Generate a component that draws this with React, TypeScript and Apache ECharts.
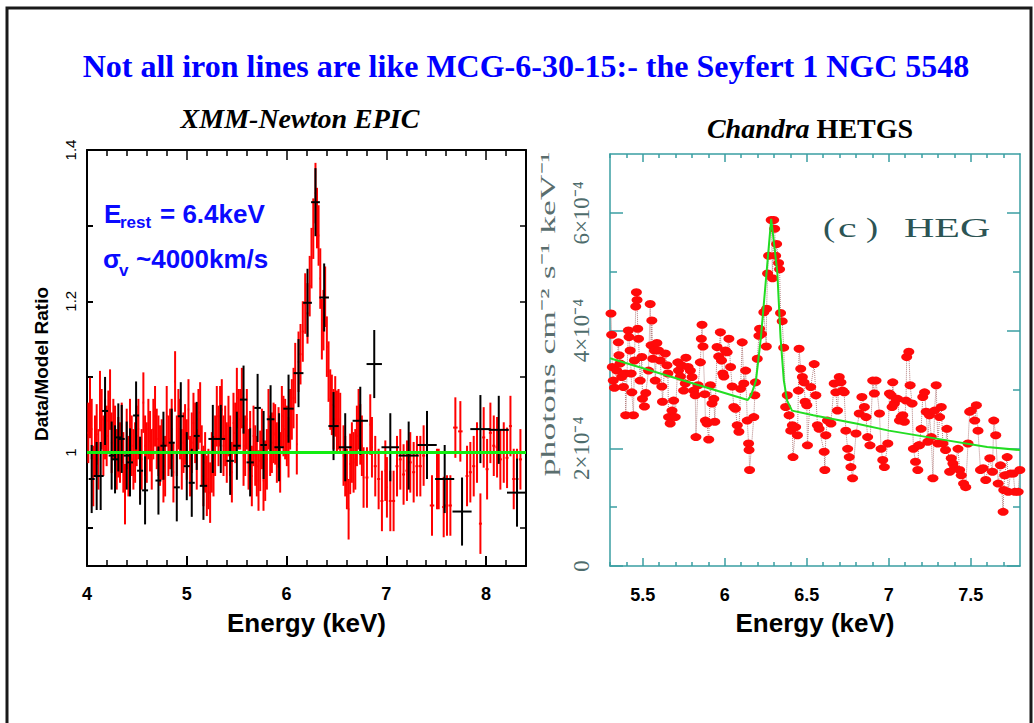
import React, { useEffect, useRef } from 'react';
import * as echarts from 'echarts';

// ---------- Left panel: XMM-Newton EPIC data/model ratio ----------
// [energy keV, ratio]
const ratioRed: number[][] = [
  [4.013,1.026],[4.030,1.059],[4.047,1.031],[4.063,0.969],[4.080,1.009],[4.097,1.024],[4.114,0.991],[4.130,1.068],
  [4.147,1.044],[4.164,1.009],[4.181,1.031],[4.197,1.022],[4.214,1.042],[4.231,1.070],[4.247,1.013],[4.264,1.031],
  [4.281,1.022],[4.298,0.991],[4.314,1.007],[4.331,1.000],[4.348,1.026],[4.364,0.987],[4.381,0.945],[4.398,1.018],
  [4.415,0.982],[4.431,1.031],[4.448,1.009],[4.465,0.991],[4.482,1.000],[4.498,1.022],[4.515,1.031],[4.532,0.978],
  [4.548,0.991],[4.565,1.066],[4.582,1.009],[4.599,1.000],[4.615,1.031],[4.632,1.015],[4.649,0.991],[4.665,1.031],
  [4.682,1.048],[4.699,1.018],[4.716,1.009],[4.732,0.996],[4.749,1.004],[4.766,0.974],[4.783,0.982],[4.799,1.048],
  [4.816,1.009],[4.833,1.018],[4.849,1.031],[4.866,0.974],[4.883,1.094],[4.900,1.009],[4.916,1.044],[4.933,1.031],
  [4.950,0.991],[4.967,1.013],[4.983,1.024],[5.000,1.004],[5.017,1.057],[5.033,0.982],[5.050,1.013],[5.067,1.039],
  [5.084,1.026],[5.100,0.991],[5.117,1.044],[5.134,1.053],[5.150,0.996],[5.167,0.969],[5.184,0.987],[5.201,0.956],
  [5.217,0.965],[5.234,0.947],[5.251,0.987],[5.268,0.982],[5.284,1.009],[5.301,1.048],[5.318,1.022],[5.334,1.048],
  [5.351,1.057],[5.368,1.009],[5.385,1.022],[5.401,1.000],[5.418,1.035],[5.435,1.009],[5.452,0.974],[5.468,1.039],
  [5.485,1.026],[5.502,1.072],[5.518,1.044],[5.535,1.044],[5.552,1.072],[5.569,0.996],[5.585,1.009],[5.602,1.044],
  [5.619,0.991],[5.635,1.015],[5.652,0.969],[5.669,1.022],[5.686,0.996],[5.702,0.982],[5.719,0.963],[5.736,0.989],
  [5.753,1.018],[5.769,0.963],[5.786,0.976],[5.803,0.991],[5.819,1.044],[5.836,1.009],[5.853,1.013],[5.870,1.026],
  [5.886,1.024],[5.903,1.000],[5.920,1.020],[5.936,0.987],[5.953,1.048],[5.969,1.035],[5.986,1.031],[6.003,1.022],
  [6.020,1.007],[6.036,1.044],[6.053,1.057],[6.070,1.072],[6.087,1.105],[6.103,1.011],[6.120,1.120],[6.140,1.130],
  [6.163,1.160],[6.187,1.197],[6.210,1.184],[6.232,1.220],[6.250,1.257],[6.268,1.296],[6.290,1.343],[6.305,1.310],
  [6.321,1.287],[6.338,1.230],[6.354,1.163],[6.370,1.175],[6.387,1.206],[6.404,1.140],[6.421,1.107],[6.438,1.070],
  [6.454,1.063],[6.471,1.044],[6.488,1.061],[6.505,1.042],[6.521,1.044],[6.538,1.039],[6.571,0.996],[6.588,0.982],
  [6.605,0.965],[6.622,0.925],[6.638,0.985],[6.655,1.000],[6.672,0.987],[6.689,0.991],[6.705,1.022],[6.722,1.044],
  [6.739,1.024],[6.755,1.009],[6.772,0.967],[6.806,0.967],[6.839,1.037],[6.856,1.007],[6.889,0.982],[6.923,0.965],
  [6.956,0.936],[6.990,0.976],[7.006,0.954],[7.040,0.936],[7.073,0.936],[7.107,0.982],[7.140,0.991],[7.173,0.971],
  [7.207,0.976],[7.240,0.987],[7.274,0.974],[7.307,0.982],[7.341,0.982],[7.374,0.996],[7.458,0.930],[7.508,0.965],
  [7.525,0.965],[7.575,0.928],[7.608,0.930],[7.642,0.930],[7.692,1.033],[7.742,1.028],[7.809,0.969],[7.842,0.974],
  [7.876,0.982],[7.909,1.000],[7.943,0.906],[7.976,1.020],[8.010,0.978],[8.043,1.026],[8.077,1.009],[8.110,1.007],
  [8.143,0.991],[8.177,1.000],[8.210,0.993],[8.244,1.035],[8.277,0.965],[8.310,0.965],[8.344,0.991]
];
const ratioBlack: number[][] = [
  [4.047,0.965],[4.097,0.969],[4.137,0.969],[4.181,1.055],[4.247,0.996],[4.281,0.991],[4.314,1.020],[4.348,1.018],
  [4.398,0.996],[4.431,0.987],[4.492,1.049],[4.532,0.976],[4.582,0.950],[4.716,0.963],[4.766,1.009],[4.849,1.013],
  [4.900,0.954],[4.940,1.048],[5.000,0.982],[5.050,0.960],[5.100,1.022],[5.167,0.956],[5.261,1.018],[5.341,1.018],
  [5.435,0.989],[5.502,1.009],[5.569,1.070],[5.635,0.987],[5.710,1.059],[5.770,1.010],[5.840,1.044],[5.925,1.007],
  [6.020,1.058],[6.120,1.105],[6.210,1.198],[6.290,1.331],[6.377,1.205],[6.471,1.035],[6.588,1.007],[6.739,1.042],
  [6.879,1.117],[7.040,1.007],[7.224,0.996],[7.408,1.010],[7.585,0.965],[7.759,0.922],[7.943,1.031],[8.127,1.030],
  [8.310,0.947]
];
const ratioModel: number[][] = [[4, 1], [8.4, 1]];
const redErr = 0.04;
const blackErr = 0.045;

const leftXMajor = [4, 5, 6, 7, 8];
const leftXMinor = [4.2,4.4,4.6,4.8,5.2,5.4,5.6,5.8,6.2,6.4,6.6,6.8,7.2,7.4,7.6,7.8,8.2];
const leftYTicks = [0.9, 1, 1.1, 1.2, 1.3];
const leftYLabels = [1, 1.2, 1.4];

// ---------- Right panel: Chandra HEG spectrum (flux in 1e-4 photons cm^-2 s^-1 keV^-1) ----------
const hegPoints: number[][] = [
  [5.306,4.29],[5.310,3.93],[5.314,3.38],[5.320,3.15],[5.327,3.03],[5.341,3.32],[5.351,3.80],[5.355,3.58],
  [5.361,3.44],[5.371,3.21],[5.382,3.04],[5.392,3.27],[5.396,2.56],[5.412,4.00],[5.416,3.89],[5.423,3.66],
  [5.429,3.27],[5.433,2.95],[5.443,2.56],[5.449,3.49],[5.457,4.41],[5.461,4.65],[5.465,4.52],[5.469,4.03],
  [5.474,3.86],[5.484,3.15],[5.494,3.55],[5.498,2.84],[5.510,2.71],[5.518,2.94],[5.535,3.32],[5.545,4.45],
  [5.551,3.75],[5.555,4.17],[5.561,3.52],[5.571,3.66],[5.576,3.15],[5.586,3.79],[5.596,3.66],[5.606,3.49],
  [5.616,3.05],[5.620,2.79],[5.637,3.61],[5.647,3.41],[5.653,3.27],[5.657,2.53],[5.667,2.42],[5.678,2.64],
  [5.688,2.81],[5.698,2.53],[5.714,3.46],[5.718,3.32],[5.729,3.22],[5.735,3.41],[5.749,2.98],[5.759,3.10],
  [5.763,3.54],[5.776,3.38],[5.790,3.32],[5.800,3.21],[5.810,2.98],[5.820,2.90],[5.824,2.19],[5.837,3.07],
  [5.851,3.46],[5.857,3.86],[5.861,4.10],[5.867,3.73],[5.878,2.92],[5.882,2.47],[5.892,2.42],[5.902,2.15],
  [5.912,3.07],[5.922,2.76],[5.933,2.84],[5.939,2.45],[5.953,3.72],[5.963,3.56],[5.973,3.97],[5.980,3.49],
  [5.988,3.27],[5.994,3.22],[6.004,3.66],[6.014,3.63],[6.025,3.86],[6.035,3.38],[6.045,3.05],[6.055,2.70],
  [6.065,2.67],[6.076,2.39],[6.086,2.28],[6.096,3.01],[6.106,3.80],[6.116,3.10],[6.127,3.32],[6.137,2.47],
  [6.145,2.08],[6.148,1.97],[6.151,1.63],[6.177,2.53],[6.183,2.90],[6.187,3.12],[6.198,3.52],[6.208,3.91],
  [6.212,4.03],[6.224,3.94],[6.238,4.31],[6.253,3.73],[6.255,4.37],[6.261,4.97],[6.267,5.27],[6.283,5.88],
  [6.291,4.89],[6.298,5.88],[6.304,5.73],[6.310,5.27],[6.316,5.47],[6.328,5.15],[6.334,5.04],[6.340,4.30],
  [6.350,4.16],[6.359,3.71],[6.371,2.70],[6.381,2.90],[6.392,2.56],[6.402,2.30],[6.412,2.39],[6.416,1.85],
  [6.432,2.36],[6.443,2.22],[6.449,2.98],[6.453,3.69],[6.463,3.35],[6.473,3.21],[6.483,3.12],[6.490,2.79],
  [6.500,2.73],[6.504,2.05],[6.524,3.04],[6.545,3.43],[6.555,2.90],[6.565,2.39],[6.575,2.33],[6.606,1.94],
  [6.610,1.63],[6.616,2.22],[6.626,2.47],[6.647,2.42],[6.667,3.10],[6.677,2.95],[6.687,2.64],[6.698,3.21],
  [6.708,3.12],[6.718,2.98],[6.728,2.95],[6.738,2.30],[6.749,1.99],[6.759,1.85],[6.769,1.68],[6.779,1.49],
  [6.800,2.25],[6.820,2.59],[6.836,2.87],[6.851,2.70],[6.861,2.53],[6.871,2.19],[6.885,2.05],[6.902,3.15],
  [6.912,2.93],[6.922,3.15],[6.943,2.59],[6.953,1.99],[6.963,1.80],[6.973,1.68],[6.994,2.08],[7.004,2.93],
  [7.014,2.90],[7.020,2.70],[7.024,3.12],[7.034,2.76],[7.044,2.84],[7.054,2.84],[7.065,2.47],[7.075,2.53],
  [7.085,2.56],[7.095,2.45],[7.105,2.81],[7.109,3.55],[7.122,3.64],[7.130,3.07],[7.142,2.76],[7.150,1.99],
  [7.163,1.77],[7.177,1.63],[7.182,2.05],[7.187,2.05],[7.197,2.33],[7.207,2.87],[7.218,2.95],[7.228,2.62],
  [7.238,2.11],[7.248,2.56],[7.259,2.19],[7.269,1.49],[7.279,2.64],[7.289,3.07],[7.299,2.08],[7.310,2.53],
  [7.320,2.70],[7.330,2.08],[7.346,1.97],[7.354,2.33],[7.371,1.60],[7.381,1.83],[7.391,1.74],[7.401,1.66],
  [7.422,1.99],[7.432,1.63],[7.442,1.54],[7.456,1.40],[7.469,1.34],[7.483,2.08],[7.493,2.62],[7.503,2.64],
  [7.524,2.47],[7.534,2.73],[7.544,2.30],[7.559,1.63],[7.575,1.66],[7.591,1.46],[7.616,1.83],[7.632,1.60],
  [7.640,2.47],[7.652,2.22],[7.667,1.40],[7.681,1.71],[7.697,0.92],[7.701,1.29],[7.707,1.54],[7.722,1.85],
  [7.728,1.26],[7.742,1.57],[7.759,1.57],[7.769,1.26],[7.789,1.26],[7.799,1.63]
];
const hegModel: number[][] = [
  [5.3,3.53],[6.14,2.82],[6.16,2.9],[6.19,3.15],[6.22,3.88],[6.255,5.0],[6.283,5.9],[6.32,5.0],
  [6.34,3.88],[6.36,3.15],[6.38,2.81],[6.41,2.64],[6.54,2.56],[6.8,2.42],[7.0,2.30],[7.3,2.16],
  [7.6,2.02],[7.8,1.97]
];
const rightXMajor = [5.5, 6, 6.5, 7, 7.5];
const rightXMinor = [5.3,5.4,5.6,5.7,5.8,5.9,6.1,6.2,6.3,6.4,6.6,6.7,6.8,6.9,7.1,7.2,7.3,7.4,7.6,7.7];
const rightYMajor = [0, 2, 4, 6];
const rightYMinor = [1, 3, 5];

const SANS = '"Liberation Sans", Arial, Helvetica, sans-serif';
const SERIF = '"Liberation Serif", "Times New Roman", Times, serif';
const TEAL = '#3a9ea2';

function withHalfWidths(pts: number[][], factor: number, minW: number, err: number) {
  return pts.map((p, i) => {
    const gl = i > 0 ? p[0] - pts[i - 1][0] : Infinity;
    const gr = i < pts.length - 1 ? pts[i + 1][0] - p[0] : Infinity;
    const g = Math.min(gl, gr);
    return [p[0], p[1], Math.max(minW, g * factor), err];
  });
}

function errorBars(name: string, data: number[][], color: string, xi: number, yi: number, z: number) {
  return {
    type: 'custom', name, xAxisIndex: xi, yAxisIndex: yi, clip: true, z,
    encode: { x: 0, y: 1 },
    data,
    renderItem: (_p: any, api: any) => {
      const x = api.value(0), y = api.value(1), xe = api.value(2), ye = api.value(3);
      const c = api.coord([x, y]);
      const l = api.coord([x - xe, y]);
      const r = api.coord([x + xe, y]);
      const t = api.coord([x, y + ye]);
      const b = api.coord([x, y - ye]);
      return {
        type: 'group',
        children: [
          { type: 'line', shape: { x1: l[0], y1: c[1], x2: r[0], y2: c[1] }, style: { stroke: color, lineWidth: 2 } },
          { type: 'line', shape: { x1: c[0], y1: t[1], x2: c[0], y2: b[1] }, style: { stroke: color, lineWidth: 2 } },
        ],
      };
    },
  };
}

function tickAxis(gridIndex: number, position: string, min: number, max: number, values: number[], len: number, color: string, lineShow: boolean, lw: number) {
  return {
    gridIndex, type: 'value', position, min, max,
    axisLine: { show: lineShow, onZero: false, lineStyle: { color, width: lw } },
    axisTick: { show: true, inside: true, length: len, customValues: values, lineStyle: { color, width: 1.5 } },
    axisLabel: { show: false },
    splitLine: { show: false },
  };
}

function txt(x: number, y: number, text: string, font: string, fill: string, extra: any = {}) {
  return {
    type: 'text', x, y, ...extra,
    style: { text, fill, font, align: 'left', verticalAlign: 'middle', textAlign: 'left', textVerticalAlign: 'middle' },
  };
}

export default function App() {
  const ref = useRef<HTMLDivElement>(null);
  useEffect(() => {
    if (!ref.current) return;
    const chart = echarts.init(ref.current, undefined, { renderer: 'svg' });

    const xAxis: any[] = [
      {
        gridIndex: 0, type: 'value', position: 'bottom', min: 4, max: 8.4,
        axisLine: { show: true, onZero: false, lineStyle: { color: '#000', width: 2 } },
        axisTick: { show: true, inside: true, length: 10, customValues: leftXMajor, lineStyle: { color: '#000', width: 2 } },
        axisLabel: { show: true, customValues: leftXMajor, margin: 19, color: '#000', fontSize: 18, fontWeight: 'bold', fontFamily: SANS },
        splitLine: { show: false },
        name: 'Energy (keV)', nameLocation: 'middle', nameGap: 44,
        nameTextStyle: { color: '#000', fontSize: 26, fontWeight: 'bold', fontFamily: SANS },
      },
      tickAxis(0, 'bottom', 4, 8.4, leftXMinor, 6, '#000', false, 2),
      tickAxis(0, 'top', 4, 8.4, leftXMajor, 10, '#000', true, 2),
      tickAxis(0, 'top', 4, 8.4, leftXMinor, 6, '#000', false, 2),
      {
        gridIndex: 1, type: 'value', position: 'bottom', min: 5.3, max: 7.8,
        axisLine: { show: true, onZero: false, lineStyle: { color: TEAL, width: 1.5 } },
        axisTick: { show: true, inside: true, length: 8, customValues: rightXMajor, lineStyle: { color: TEAL, width: 1.5 } },
        axisLabel: { show: true, customValues: rightXMajor, margin: 20, color: '#000', fontSize: 18, fontWeight: 'bold', fontFamily: SANS },
        splitLine: { show: false },
        name: 'Energy (keV)', nameLocation: 'middle', nameGap: 44,
        nameTextStyle: { color: '#000', fontSize: 26, fontWeight: 'bold', fontFamily: SANS },
      },
      tickAxis(1, 'bottom', 5.3, 7.8, rightXMinor, 4, TEAL, false, 1.5),
      tickAxis(1, 'top', 5.3, 7.8, rightXMajor, 8, TEAL, true, 1.5),
      tickAxis(1, 'top', 5.3, 7.8, rightXMinor, 4, TEAL, false, 1.5),
    ];

    const yAxis: any[] = [
      {
        gridIndex: 0, type: 'value', position: 'left', min: 0.85, max: 1.4,
        axisLine: { show: true, onZero: false, lineStyle: { color: '#000', width: 2 } },
        axisTick: { show: true, inside: true, length: 6, customValues: leftYTicks, lineStyle: { color: '#000', width: 2 } },
        axisLabel: {
          show: true, customValues: leftYLabels, rotate: 90, margin: 9, color: '#000', fontSize: 15, fontFamily: SANS,
          formatter: (v: number) => (v === 1 ? '1' : v.toFixed(1)),
        },
        splitLine: { show: false },
        name: 'Data/Model Ratio', nameLocation: 'middle', nameGap: 36, nameRotate: 90,
        nameTextStyle: { color: '#000', fontSize: 19, fontWeight: 'bold', fontFamily: SANS, padding: [0, 12, 0, 0] },
      },
      tickAxis(0, 'right', 0.85, 1.4, leftYTicks, 6, '#000', true, 2),
      {
        gridIndex: 1, type: 'value', position: 'left', min: 0, max: 7,
        axisLine: { show: true, onZero: false, lineStyle: { color: TEAL, width: 1.5 } },
        axisTick: { show: true, inside: true, length: 13, customValues: rightYMajor, lineStyle: { color: TEAL, width: 1.5 } },
        axisLabel: {
          show: true, customValues: rightYMajor, rotate: 90, margin: 17, color: '#4e6c6c', fontSize: 23, fontFamily: SERIF,
          formatter: (v: number) => (v === 0 ? '0' : v + '×10⁻⁴'),
        },
        splitLine: { show: false },
      },
      tickAxis(1, 'left', 0, 7, rightYMinor, 7, TEAL, false, 1.5),
      tickAxis(1, 'right', 0, 7, rightYMajor, 13, TEAL, true, 1.5),
      tickAxis(1, 'right', 0, 7, rightYMinor, 7, TEAL, false, 1.5),
    ];

    const BLUE = '#0a0aff';
    const HEGC = '#2c5454';
    const graphic: any[] = [
      { type: 'rect', shape: { x: 7, y: 8, width: 1024, height: 740 }, style: { fill: 'none', stroke: '#1a1a1a', lineWidth: 3 }, z: 0 },
      {
        type: 'text', x: 526, y: 66,
        style: { text: 'Not all iron lines are like MCG-6-30-15:- the Seyfert 1 NGC 5548', fill: '#0000ff', font: 'bold 32px ' + SERIF, align: 'center', verticalAlign: 'middle', textAlign: 'center', textVerticalAlign: 'middle' },
      },
      {
        type: 'text', x: 300, y: 118,
        style: { text: 'XMM-Newton EPIC', fill: '#000', font: 'italic bold 28px ' + SERIF, align: 'center', verticalAlign: 'middle', textAlign: 'center', textVerticalAlign: 'middle' },
      },
      {
        type: 'text', x: 810, y: 128,
        style: {
          text: '{i|Chandra }{b|HETGS}', align: 'center', verticalAlign: 'middle', textAlign: 'center', textVerticalAlign: 'middle',
          rich: {
            i: { font: 'italic bold 28px ' + SERIF, fill: '#000' },
            b: { font: 'bold 28px ' + SERIF, fill: '#000' },
          },
        },
      },
      txt(104, 214, 'E', 'bold 26px ' + SANS, BLUE),
      txt(120, 222, 'rest', 'bold 17px ' + SANS, BLUE),
      txt(160, 214, '= 6.4keV', 'bold 26px ' + SANS, BLUE),
      txt(103, 259, 'σ', 'bold 26px ' + SANS, BLUE),
      txt(119, 270, 'v', 'bold 17px ' + SANS, BLUE),
      txt(136, 259, '~4000km/s', 'bold 26px ' + SANS, BLUE),
      {
        type: 'text', x: 548, y: 314, rotation: Math.PI / 2, scaleX: 1.62,
        style: { text: 'photons cm⁻² s⁻¹ keV⁻¹', fill: '#5a6e6e', font: '22px ' + SERIF, align: 'center', verticalAlign: 'middle', textAlign: 'center', textVerticalAlign: 'middle' },
      },
      txt(823, 228, '(', '28px ' + SERIF, HEGC, { scaleX: 1.3 }),
      txt(838, 228, 'c', '28px ' + SERIF, HEGC, { scaleX: 1.5 }),
      txt(866, 228, ')', '28px ' + SERIF, HEGC, { scaleX: 1.3 }),
      txt(904, 228, 'HEG', '28px ' + SERIF, HEGC, { scaleX: 1.5 }),
    ];

    chart.setOption({
      animation: false,
      backgroundColor: '#fff',
      grid: [
        { left: 87, top: 150, width: 439, height: 416, containLabel: false },
        { left: 610, top: 154, width: 410, height: 412, containLabel: false },
      ],
      xAxis,
      yAxis,
      graphic,
      series: [
        errorBars('EPIC pn', withHalfWidths(ratioRed, 0.45, 0.006, redErr), '#ff0000', 0, 0, 2),
        errorBars('EPIC MOS', withHalfWidths(ratioBlack, 0.55, 0.03, blackErr), '#000000', 0, 0, 3),
        {
          type: 'line', name: 'ratio model', xAxisIndex: 0, yAxisIndex: 0, data: ratioModel, showSymbol: false, z: 4,
          lineStyle: { color: '#11ee11', width: 3 },
        },
        {
          type: 'line', name: 'HEG connect', xAxisIndex: 4, yAxisIndex: 2, data: hegPoints, showSymbol: false, z: 2,
          lineStyle: { color: '#b58080', width: 1, type: 'dotted' },
        },
        {
          type: 'scatter', name: 'HEG data', xAxisIndex: 4, yAxisIndex: 2, data: hegPoints, symbol: 'circle', symbolSize: [11, 8], z: 3,
          itemStyle: { color: '#ff0a0a', opacity: 1 },
        },
        {
          type: 'line', name: 'HEG model', xAxisIndex: 4, yAxisIndex: 2, data: hegModel, showSymbol: false, z: 4,
          lineStyle: { color: '#22dd22', width: 2 },
        },
      ],
    });
    return () => chart.dispose();
  }, []);
  return <div ref={ref} style={{ position: 'fixed', left: 0, top: 0, width: 1034, height: 723, background: '#fff' }} />;
}
